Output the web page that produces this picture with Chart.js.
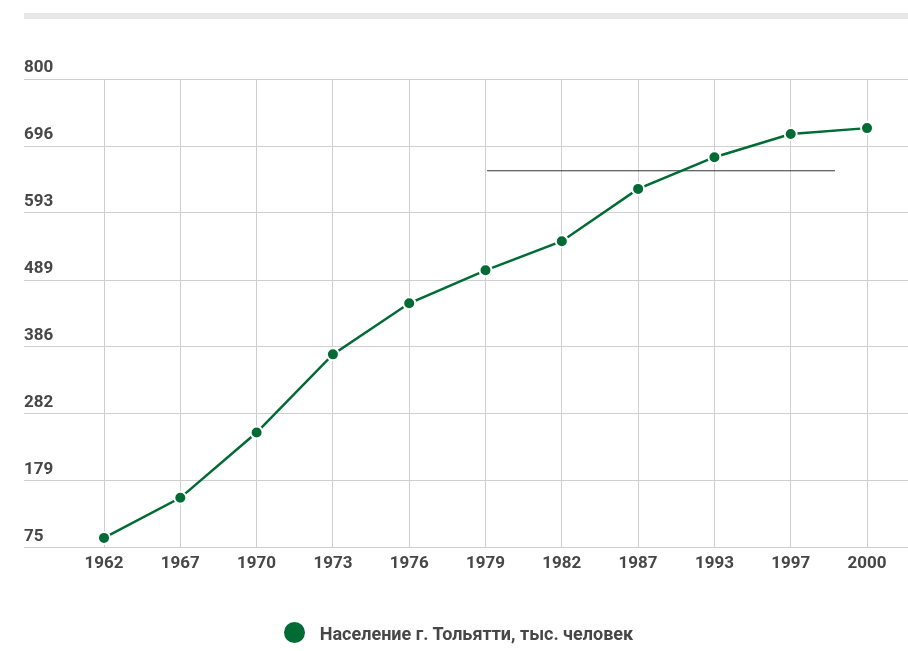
<!DOCTYPE html>
<html>
<head>
<meta charset="utf-8">
<script src="https://cdn.jsdelivr.net/npm/chart.js@4.4.1/dist/chart.umd.min.js"></script>
<style>
    body { margin: 0; background: #fff; }
    #wrap { position: relative; width: 908px; height: 651px; }
    #topbar { position: absolute; left: 24px; right: 0; top: 13px; height: 6px; background: #e8e8e8; }
    canvas { position: absolute; left: 0; top: 0; }
    #legend { position: absolute; left: 0; right: 0; top: 621px; text-align: center;
              font: bold 18px Roboto, sans-serif; color: #474747; padding-left: 9px; }
    #legend span.dot { display: inline-block; width: 21px; height: 21px; border-radius: 50%;
                       vertical-align: middle; margin-right: 15px; position: relative; top: -1px; }
    #legend span.txt { vertical-align: middle; }
</style>
</head>
<body>
<div id="wrap">
    <div id="topbar"></div>
    <canvas id="population-chart" width="908" height="651"></canvas>
    <div id="legend"></div>
</div>
<script>
// Годы по оси X
const years = ['1962', '1967', '1970', '1973', '1976', '1979', '1982', '1987', '1993', '1997', '2000'];

// Население, тыс. человек
const population = [90, 152, 253, 374, 453, 504, 549, 630, 679, 715, 724];

// Подписи оси Y
const yTicks = [75, 179, 282, 386, 489, 593, 696, 800];

// Тонкая горизонтальная линия (от индекса до индекса, уровень)
const refLineX = [5.02, 9.58];
const refLineY = [658, 658];

const GREEN = '#006b35';
const TEXT = '#474747';
const GRID = '#cfcfcf';

const ctx = document.getElementById('population-chart').getContext('2d');

const chart = new Chart(ctx, {
    type: 'line',
    data: {
        datasets: [
            {
                label: 'Население г. Тольятти, тыс. человек',
                data: population.map((v, i) => ({ x: i, y: v })),
                borderColor: GREEN,
                backgroundColor: GREEN,
                borderWidth: 2.5,
                pointRadius: 6,
                pointHoverRadius: 6,
                pointBackgroundColor: GREEN,
                pointBorderColor: '#ffffff',
                pointBorderWidth: 2,
                tension: 0
            },
            {
                label: 'ref',
                data: refLineX.map((x, i) => ({ x: x, y: refLineY[i] })),
                borderColor: '#333333',
                borderWidth: 1,
                pointRadius: 0,
                order: 2
            }
        ]
    },
    options: {
        responsive: false,
        animation: false,
        layout: {
            autoPadding: false,
            padding: { left: 24, right: 0, top: 79, bottom: 71 }
        },
        plugins: {
            legend: { display: false },
            tooltip: { enabled: false }
        },
        scales: {
            x: {
                type: 'linear',
                min: -1.0485,
                max: 10.537,
                afterBuildTicks: scale => {
                    scale.ticks = years.map((y, i) => ({ value: i }));
                },
                afterFit: scale => {
                    scale.paddingLeft = 0;
                    scale.paddingRight = 0;
                },
                grid: { color: GRID, lineWidth: 1, drawTicks: false },
                border: { display: false },
                ticks: {
                    padding: 6,
                    color: TEXT,
                    font: { family: 'Roboto', size: 17, weight: 'bold' },
                    callback: value => years[value] ?? ''
                }
            },
            y: {
                min: 75,
                max: 800,
                afterBuildTicks: scale => {
                    scale.ticks = yTicks.map(v => ({ value: v }));
                },
                grid: { color: GRID, lineWidth: 1, drawTicks: false },
                border: { display: false },
                ticks: {
                    mirror: true,
                    padding: 0,
                    labelOffset: -11,
                    color: TEXT,
                    font: { family: 'Roboto', size: 17, weight: 'bold' },
                    callback: value => String(value)
                }
            }
        }
    }
});

// HTML-легенда из данных графика
const legendEl = document.getElementById('legend');
const ds = chart.data.datasets[0];
legendEl.innerHTML = `<span class="dot" style="background:${ds.pointBackgroundColor}"></span><span class="txt">${ds.label}</span>`;
</script>
</body>
</html>
